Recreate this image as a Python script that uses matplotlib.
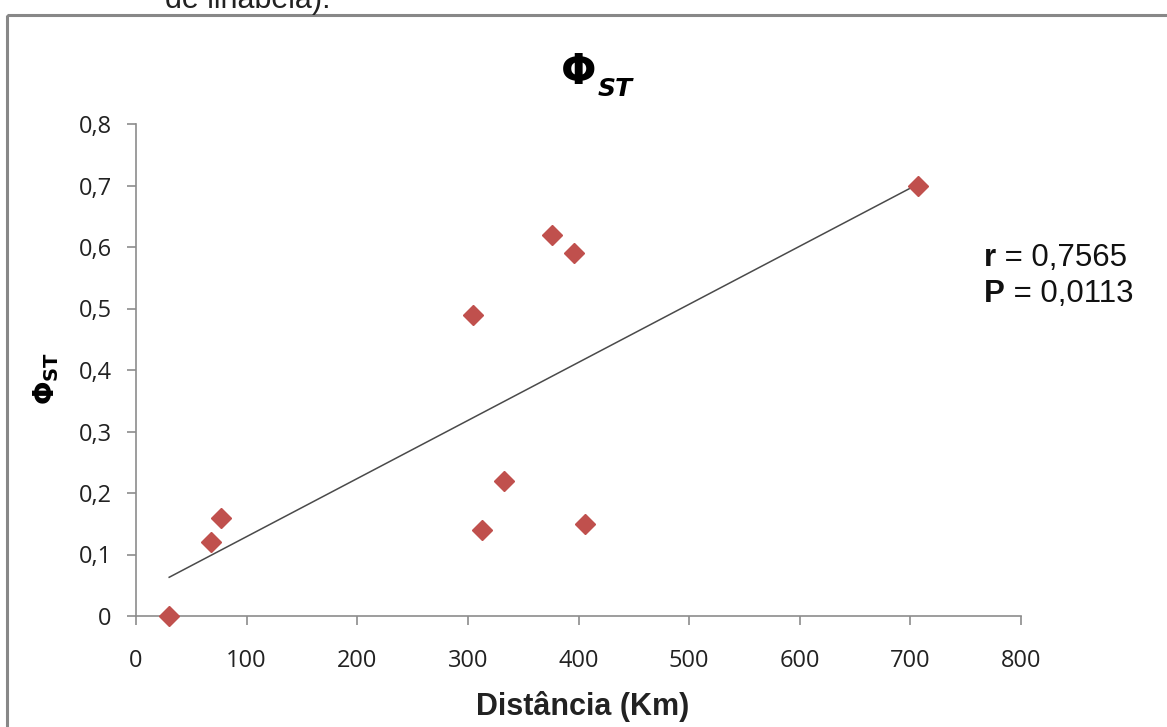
import numpy as np
import matplotlib
matplotlib.use("Agg")
import matplotlib.pyplot as plt
from matplotlib.patches import Rectangle

# distance (km) vs Phi_ST
dist = [30, 68, 77, 305, 313, 333, 376, 396, 406, 707]
phi_st = [0.00, 0.12, 0.16, 0.49, 0.14, 0.22, 0.62, 0.59, 0.15, 0.70]
xticks = [0, 100, 200, 300, 400, 500, 600, 700, 800]
yticks = [0, 0.1, 0.2, 0.3, 0.4, 0.5, 0.6, 0.7, 0.8]
r_txt, p_txt = "0,7565", "0,0113"

W, H = 1167, 727
fig = plt.figure(figsize=(W / 100, H / 100), dpi=100)
px = lambda x, y: (x / W, 1 - y / H)

# frame of the embedded chart (right/bottom edges fall outside the crop)
fig.patches.append(Rectangle(px(7, 15), 2, -1, transform=fig.transFigure,
                             fill=False, ec="#888888", lw=2.2))
fig.text(*px(165, 8), "de linabeia).", fontsize=22, family="Liberation Sans",
         va="baseline", color="#222222")

ax = fig.add_axes([136 / W, 1 - 616 / H, (1021 - 136) / W, (616 - 124) / H])
ax.set_xlim(0, 800); ax.set_ylim(0, 0.8)

x = np.asarray(dist, float); y = np.asarray(phi_st, float)
k, b = np.polyfit(x, y, 1)
xl = np.array([x.min(), x.max()])
ax.plot(xl, k * xl + b, c="#4a4a4a", lw=1.1, zorder=2)
ax.plot(x, y, ls="none", marker="D", ms=10, mfc="#c0504d", mec="#c0504d", zorder=3,
        clip_on=False)

for s in ["top", "right"]: ax.spines[s].set_visible(False)
for s in ["left", "bottom"]:
    ax.spines[s].set_color("#8c8c8c"); ax.spines[s].set_linewidth(1.2)
ax.set_xticks(xticks); ax.set_yticks(yticks)
ax.set_xticklabels([str(v) for v in xticks])
ax.set_yticklabels(["0" if v == 0 else f"{v:.1f}".replace(".", ",") for v in yticks])
ax.tick_params(direction="out", length=6.5, width=1.2, color="#8c8c8c",
               labelsize=17, labelcolor="#222222")
ax.tick_params(axis="x", pad=17)
ax.tick_params(axis="y", pad=11)
for t in ax.get_xticklabels() + ax.get_yticklabels(): t.set_family("Open Sans")

# title: bold Phi with italic ST subscript
t0 = fig.text(*px(561, 84), "Φ", fontsize=30, fontweight="bold",
              family="DejaVu Sans", va="baseline")
ax.annotate("ST", xy=(1, 0), xycoords=t0, xytext=(1, -2), textcoords="offset points",
            va="baseline", fontsize=18, fontweight="bold", style="italic",
            family="DejaVu Sans")

fig.text(*px(46, 378), r"$\mathbf{\Phi}_{\mathbf{ST}}$", fontsize=20, rotation=90,
         ha="center", va="center")
fig.text(*px(583, 706), "Distância (Km)", fontsize=22, fontweight="bold",
         family="Liberation Sans", ha="center", va="center", color="#222222")

t1 = fig.text(*px(984, 266), "r", fontsize=22.5, fontweight="bold",
              family="Liberation Sans", va="baseline", color="#111111")
ax.annotate(" = " + r_txt, xy=(1, 0), xycoords=t1, va="bottom", fontsize=22.5,
            family="Liberation Sans", color="#111111")
t2 = fig.text(*px(984, 302), "P", fontsize=22.5, fontweight="bold",
              family="Liberation Sans", va="baseline", color="#111111")
ax.annotate(" = " + p_txt, xy=(1, 0), xycoords=t2, va="bottom", fontsize=22.5,
            family="Liberation Sans", color="#111111")

fig.savefig("out.png", dpi=100, facecolor="white")
